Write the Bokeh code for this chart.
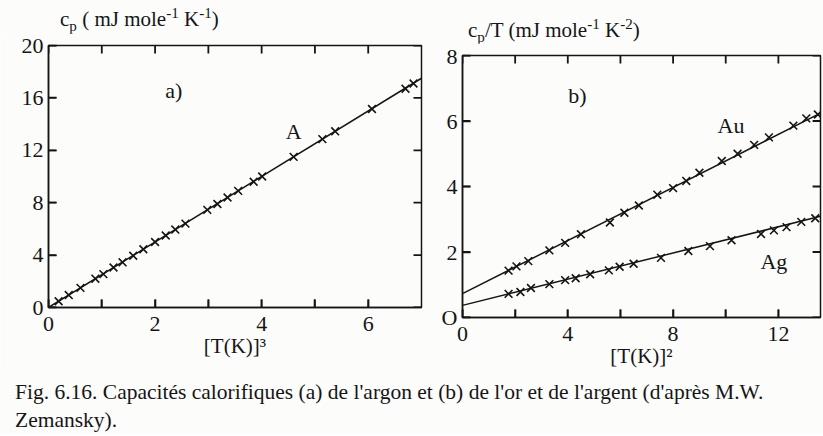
from bokeh.plotting import figure
from bokeh.models import LinearAxis, FixedTicker, Label, Div, Range1d
from bokeh.layouts import row, column
from bokeh.embed import file_html
from bokeh.resources import INLINE

# ---- panel a : argon, cp vs T^3 ----
ar_x = [0.19, 0.38, 0.6, 0.88, 1.03, 1.22, 1.39, 1.59, 1.78, 2.0, 2.2, 2.38, 2.57,
        2.98, 3.17, 3.36, 3.56, 3.85, 4.01, 4.6, 5.14, 5.38, 6.07, 6.7, 6.85]
ar_y = [0.48, 0.95, 1.5, 2.2, 2.55, 3.05, 3.45, 3.95, 4.45, 5.0, 5.5, 5.95, 6.4,
        7.45, 7.9, 8.4, 8.9, 9.6, 10.0, 11.5, 12.85, 13.45, 15.15, 16.7, 17.1]
ar_fit_x = [0, 7]
ar_fit_y = [0, 17.5]

# ---- panel b : gold and silver, cp/T vs T^2 ----
au_x = [1.75, 2.05, 2.5, 3.3, 3.9, 4.5, 5.6, 6.15, 6.7, 7.4, 8.0, 8.5, 9.0, 9.85,
        10.45, 11.08, 11.64, 12.57, 13.06, 13.5]
au_y = [1.43, 1.56, 1.72, 2.05, 2.28, 2.54, 2.9, 3.2, 3.42, 3.75, 3.95, 4.17, 4.42, 4.78,
        5.0, 5.27, 5.5, 5.86, 6.08, 6.2]
au_fit_x = [0, 13.6]
au_fit_y = [0.73, 6.24]

ag_x = [1.75, 2.2, 2.6, 3.3, 3.9, 4.3, 4.85, 5.56, 5.97, 6.5, 7.54, 8.58, 9.4, 10.22,
        11.34, 11.83, 12.31, 12.87, 13.4]
ag_y = [0.72, 0.78, 0.9, 1.02, 1.14, 1.2, 1.32, 1.44, 1.55, 1.64, 1.82, 2.03, 2.18, 2.36,
        2.55, 2.66, 2.76, 2.92, 3.03]
ag_fit_x = [0, 13.6]
ag_fit_y = [0.37, 3.09]

a_yticks = [0, 4, 8, 12, 16, 20]
a_xticks = [0, 2, 4, 6]
a_xminor = [1, 3, 5]
b_yticks = [0, 2, 4, 6, 8]
b_xticks = [0, 4, 8, 12]
b_xminor = [2, 6, 10]

FONT = "Liberation Serif"
INK = "#151515"
BG = "#fcfcfb"
TICK = 8        # px, inward tick length
FRAME_H = 262   # px


def make_fig(w, h, xr, yr, bl, br, bt, xt, xm, yt, xlabel):
    p = figure(width=w, height=h, x_range=Range1d(*xr), y_range=Range1d(*yr),
               output_backend="svg", toolbar_location=None,
               x_axis_location=None, y_axis_location=None,
               min_border_left=bl, min_border_right=br,
               min_border_top=bt, min_border_bottom=h - bt - FRAME_H,
               background_fill_color=BG, border_fill_color=BG)
    p.grid.visible = False
    p.outline_line_color = INK
    p.outline_line_width = 1.5

    xa = LinearAxis(ticker=FixedTicker(ticks=xt, minor_ticks=xm))
    ya = LinearAxis(ticker=FixedTicker(ticks=yt))
    for ax in (xa, ya):
        ax.axis_line_color = INK
        ax.axis_line_width = 1.5
        ax.major_tick_line_color = INK
        ax.major_tick_line_width = 1.6
        ax.minor_tick_line_color = INK
        ax.minor_tick_line_width = 1.6
        ax.major_tick_in = TICK
        ax.major_tick_out = 0
        ax.minor_tick_in = TICK
        ax.minor_tick_out = 0
        ax.major_label_text_font = FONT
        ax.major_label_text_font_size = "22px"
        ax.major_label_text_color = INK
    xa.major_label_standoff = 9
    ya.major_label_standoff = 5
    xa.axis_label = xlabel
    xa.axis_label_text_font = FONT
    xa.axis_label_text_font_size = "21px"
    xa.axis_label_text_font_style = "normal"
    xa.axis_label_text_color = INK
    xa.axis_label_standoff = 0
    p.add_layout(xa, "below")
    p.add_layout(ya, "left")

    # inward tick marks on all four sides of the frame, drawn as short lines
    frame_w = w - bl - br
    dy = TICK * (yr[1] - yr[0]) / FRAME_H
    dx = TICK * (xr[1] - xr[0]) / frame_w
    xall = sorted(xt + xm)
    xs = [[x, x] for x in xall] + [[x, x] for x in xall] \
        + [[xr[0], xr[0] + dx] for _ in yt] + [[xr[1], xr[1] - dx] for _ in yt]
    ys = [[yr[0], yr[0] + dy] for _ in xall] + [[yr[1], yr[1] - dy] for _ in xall] \
        + [[y, y] for y in yt] + [[y, y] for y in yt]
    p.multi_line(xs=xs, ys=ys, line_color=INK, line_width=1.8)
    return p


def lab(p, x, y, text, size="22px"):
    p.add_layout(Label(x=x, y=y, text=text, text_font=FONT, text_font_size=size,
                       text_color=INK, text_align="center", text_baseline="middle"))


def title_div(html, w, h, pad_left, pad_top):
    return Div(text=html, width=w, height=h, margin=(0, 0, 0, 0),
               styles={"font-family": FONT, "font-size": "21px", "line-height": "24px",
                       "color": INK, "padding-left": f"{pad_left}px",
                       "padding-top": f"{pad_top}px", "background-color": BG,
                       "box-sizing": "border-box", "white-space": "nowrap"})


SUB = '<sub style="line-height:0;font-size:72%">'
SUP = '<sup style="line-height:0;font-size:72%">'

# panel a
ta = title_div(f"c{SUB}p</sub> ( mJ mole{SUP}-1</sup> K{SUP}-1</sup>)", 438, 33, 60, 7)
pa = make_fig(438, 337, (0, 7), (0, 20), 48, 17, 12, a_xticks, a_xminor, a_yticks,
              "[T(K)]³")
pa.line(ar_fit_x, ar_fit_y, line_color=INK, line_width=1.5)
pa.scatter(ar_x, ar_y, marker="x", size=11, line_color=INK, line_width=1.6)
lab(pa, 2.35, 16.6, "a)")
lab(pa, 4.6, 13.45, "A")

# panel b
tb = title_div(f"c{SUB}p</sub>/T (mJ mole{SUP}-1</sup> K{SUP}-2</sup>)", 385, 43, 30, 18)
pb = make_fig(385, 327, (0, 13.6), (0, 8), 20, 3, 12, b_xticks, b_xminor, b_yticks,
              "[T(K)]²")
pb.left[0].major_label_overrides = {0: "O"}
pb.line(au_fit_x, au_fit_y, line_color=INK, line_width=1.5)
pb.line(ag_fit_x, ag_fit_y, line_color=INK, line_width=1.5)
pb.scatter(au_x, au_y, marker="x", size=11, line_color=INK, line_width=1.6)
pb.scatter(ag_x, ag_y, marker="x", size=11, line_color=INK, line_width=1.6)
lab(pb, 4.37, 6.77, "b)")
lab(pb, 10.2, 5.86, "Au")
lab(pb, 11.83, 1.7, "Ag")

caption = Div(
    text=("Fig. 6.16. Capacités calorifiques (a) de l'argon et (b) de l'or et de "
          "l'argent (d'après M.W.<br>Zemansky)."),
    width=823, height=64, margin=(0, 0, 0, 0),
    styles={"font-family": FONT, "font-size": "21.5px", "line-height": "28px",
            "color": INK, "padding-left": "15px", "padding-top": "8px",
            "background-color": BG, "box-sizing": "border-box"})

layout = column(row(column(ta, pa), column(tb, pb)), caption)
open("out.html", "w").write(file_html(layout, INLINE))
